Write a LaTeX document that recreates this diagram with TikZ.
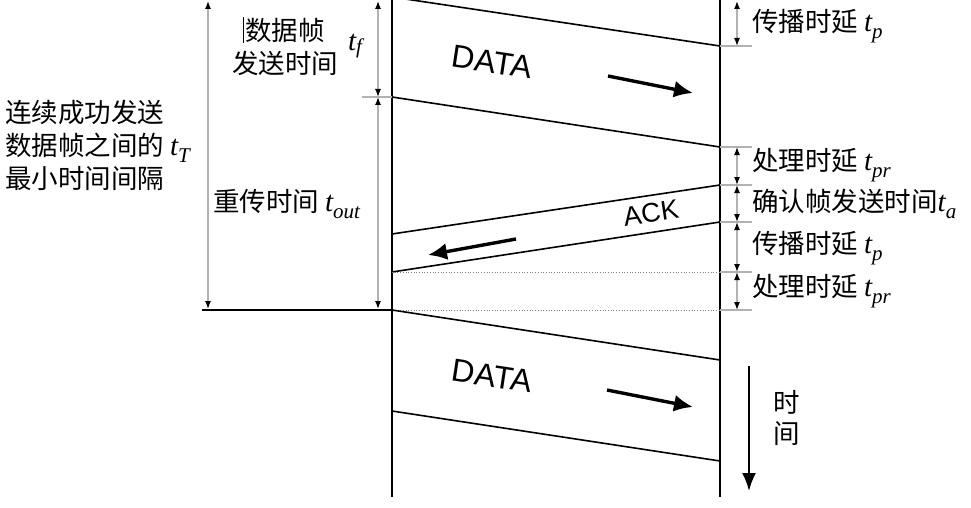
\documentclass[tikz,border=0pt]{standalone}
\usepackage{fontspec}
\setmainfont{Liberation Serif}
\newfontfamily\cjk{Noto Sans CJK SC}
\newfontfamily\arial{Liberation Sans}
\newfontfamily\tfont{Liberation Serif}
\usetikzlibrary{arrows.meta}
\newcommand{\tsub}[1]{{\tfont\fontsize{29}{30}\selectfont\itshape t}\raisebox{-0.28em}{\tfont\fontsize{21}{21}\selectfont\itshape #1}}
\begin{document}
\begin{tikzpicture}[x=1pt,y=-1pt,
  life/.style={line width=2pt},
  msg/.style={line width=1.6pt},
  dim/.style={gray!60, line width=1.3pt, {Latex[length=8pt,width=6pt,color=black]}-{Latex[length=8pt,width=6pt,color=black]}},
  tickline/.style={gray!60,line width=1.3pt},
  dotline/.style={gray,line width=0.7pt,dotted},
  bigarrow/.style={line width=3.4pt,-{Latex[length=19pt,width=17pt]}},
  lab/.style={font=\cjk\fontsize{26.5}{30}\selectfont, inner sep=0pt},
  pkt/.style={font=\arial\fontsize{32}{33}\selectfont, inner sep=0pt}]
\useasboundingbox (0,0) rectangle (971,508);

% lifelines
\coordinate (S0) at (392,0); \coordinate (S1) at (392,497);
\coordinate (R0) at (720,0); \coordinate (R1) at (720,497);
\draw[life] (S0) -- (S1);
\draw[life] (R0) -- (R1);

% first DATA frame
\coordinate (d1a) at (392,-3); \coordinate (d1b) at (720,46);
\coordinate (d1c) at (392,97); \coordinate (d1d) at (720,147);
\draw[msg] (d1a) -- (d1b);
\draw[msg] (d1c) -- (d1d);
\node[pkt, rotate=-8.6] (data1) at (492,62) {DATA};
\coordinate (a1s) at (608,76); \coordinate (a1e) at (693,93);
\draw[bigarrow] (a1s) -- (a1e);

% ACK frame
\coordinate (k1) at (720,185); \coordinate (k2) at (392,234);
\coordinate (k3) at (720,222); \coordinate (k4) at (392,272);
\draw[msg] (k1) -- (k2);
\draw[msg] (k3) -- (k4);
\node[pkt, rotate=8.5, font=\arial\fontsize{27}{28}\selectfont] (ack) at (651,213) {ACK};
\coordinate (a2s) at (516,239); \coordinate (a2e) at (428,255);
\draw[bigarrow] (a2s) -- (a2e);

% dotted lines
\coordinate (p1) at (720,272);
\draw[dotline] (k4) -- (p1);
\coordinate (e1) at (392,310); \coordinate (e2) at (720,310);
\draw[dotline] (e1) -- (e2);
\coordinate (e0) at (202,310);
\draw[line width=1.2pt] (e0) -- (e1);

% second DATA frame
\coordinate (d2b) at (720,360);
\coordinate (d2c) at (392,411); \coordinate (d2d) at (720,461);
\draw[msg] (e1) -- (d2b);
\draw[msg] (d2c) -- (d2d);
\node[pkt, rotate=-8.6] (data2) at (492,376) {DATA};
\coordinate (a3s) at (607,390); \coordinate (a3e) at (693,407);
\draw[bigarrow] (a3s) -- (a3e);

% left dimensions
\coordinate (L1t) at (208,1); \coordinate (L1b) at (208,309);
\draw[dim] (L1t) -- (L1b);
\coordinate (L2t) at (378,1); \coordinate (L2m) at (378,97); \coordinate (L2b) at (378,309);
\draw[dim] (L2t) -- (L2m);
\draw[dim] (L2m) -- (L2b);
\coordinate (tk0) at (362,97);
\draw[tickline] (tk0) -- (d1c);

\coordinate (bar1) at (243,17); \coordinate (bar2) at (243,43);
\draw[line width=0.8pt] (bar1) -- (bar2);
\node[lab] (tf1) at (285,30) {数据帧};
\node[lab] (tf2) at (285,63) {发送时间};
\node[inner sep=0pt] (tf) at (355,46) {\tsub{f}};

\node[lab, anchor=west, align=left, font=\cjk\fontsize{26.5}{33}\selectfont] (tT) at (5,145)
  {连续成功发送\\数据帧之间的 \tsub{T}\\最小时间间隔};
\node[lab, anchor=west] (tout) at (213,204) {重传时间 \tsub{out}};

% right dimensions
\foreach \y/\n in {46/a,147/b,185/c,222/d,272/e,310/f}{
  \coordinate (rt\n) at (720,\y);
  \coordinate (re\n) at (752,\y);
  \coordinate (rd\n) at (737,\y);
  \draw[tickline] (rt\n) -- (re\n);
}
\coordinate (rd0) at (737,1);
\draw[dim] (rd0) -- (rda);
\draw[dim] (rdb) -- (rdc);
\draw[dim] (rdc) -- (rdd);
\draw[dim] (rdd) -- (rde);
\draw[dim] (rde) -- (rdf);

\node[lab, anchor=west] (r1) at (752,26) {传播时延 \tsub{p}};
\node[lab, anchor=west] (r2) at (752,165) {处理时延 \tsub{pr}};
\node[lab, anchor=west] (r3) at (752,204) {确认帧发送时间\tsub{a}};
\node[lab, anchor=west] (r4) at (752,248) {传播时延 \tsub{p}};
\node[lab, anchor=west] (r5) at (752,291) {处理时延 \tsub{pr}};

% time arrow
\coordinate (ts) at (749,366); \coordinate (te) at (749,491);
\draw[line width=2pt,-{Latex[length=18pt,width=14pt]}] (ts) -- (te);
\node[lab] (time1) at (787,402) {时};
\node[lab] (time2) at (787,434) {间};
\end{tikzpicture}
\end{document}
